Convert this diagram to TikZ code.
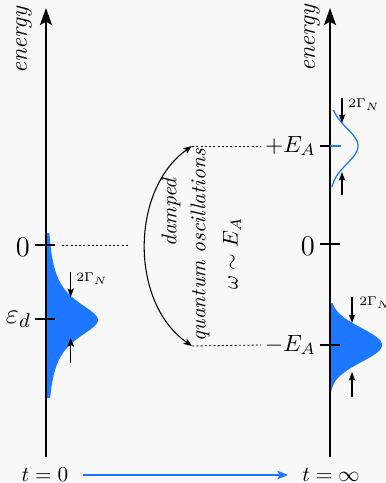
\RequirePackage{fix-cm}
\documentclass[tikz,border=0pt]{standalone}
\usetikzlibrary{arrows.meta}
\definecolor{myblue}{RGB}{30,120,255}
\definecolor{bgc}{RGB}{248,248,248}
\tikzset{
 axis/.style={line width=1.2pt,-{Stealth[length=8pt,width=5.6pt,inset=1.6pt]}},
 tick/.style={line width=0.5pt},
 guide/.style={line width=0.4pt, dash pattern=on 1pt off 1pt},
 gam/.style={line width=0.7pt,-{Stealth[length=4pt,width=3pt,inset=0.8pt]}},
 gamlabel/.style={font=\fontsize{6}{7}\selectfont, anchor=west, inner sep=0pt},
 axlabel/.style={font=\fontsize{11.5}{13}\selectfont\itshape, rotate=90, inner sep=0pt},
 bigl/.style={font=\fontsize{13.4}{15}\selectfont, anchor=east, inner sep=2.2pt},
 eal/.style={font=\fontsize{11}{13}\selectfont, anchor=east, inner sep=1.8pt},
 midtext/.style={rotate=90, inner sep=0pt},
 tlabel/.style={inner sep=0pt},
}
\begin{document}
\begin{tikzpicture}[x=0.47pt,y=-0.47pt]
\fill[bgc] (0,0) rectangle (386,483);
\useasboundingbox (0,0) rectangle (386,483);

% distributions
\fill[myblue] (46,233) -- plot[domain=-87:78,samples=120,variable=\t] ({46+52/(1+\t*\t/529)},{320+\t}) -- (46,398) -- cycle;
\fill[myblue] (330,303) -- plot[domain=-42:47,samples=120,variable=\t] ({330+52*exp(-\t*\t/578)},{345+\t}) -- (330,392) -- cycle;
\draw[myblue,line width=0.6pt] plot[domain=-36:41,samples=120,variable=\t] ({330+28*exp(-\t*\t/626)},{146+\t});

% axes
\coordinate (L0) at (46,457); \coordinate (L1) at (46,8);
\coordinate (R0) at (330,457); \coordinate (R1) at (330,8);
\draw[axis] (L0) -- (L1);
\draw[axis] (R0) -- (R1);
\node[axlabel] (enL) at (24,40) {energy};
\node[axlabel] (enR) at (312,38) {energy};

% left ticks
\coordinate (tz1) at (35,245); \coordinate (tz2) at (55,245);
\draw[tick] (tz1) -- (tz2);
\node[bigl] (zL) at ([yshift=-1pt]tz1) {$0$};
\coordinate (te1) at (35,319); \coordinate (te2) at (55,319);
\draw[tick] (te1) -- (te2);
\node[bigl, anchor=mid east, inner sep=1.8pt] (ed) at (te1) {$\varepsilon_d$};
\coordinate (dl1) at (62,245); \coordinate (dl2) at (128,245);
\draw[guide] (dl1) -- (dl2);

% right ticks
\coordinate (ta1) at (320,146); \coordinate (ta2) at (330,146); \coordinate (ta3) at (341,146);
\draw[tick] (ta1) -- (ta2);
\draw[myblue, line width=1.2pt] (ta2) -- (ta3);
\node[eal] (EAp) at (ta1) {$+E_A$};
\coordinate (tr1) at (320,244); \coordinate (tr2) at (340,244);
\draw[tick] (tr1) -- (tr2);
\node[bigl] (zR) at ([yshift=-1pt]tr1) {$0$};
\coordinate (tm1) at (320,345); \coordinate (tm2) at (340,345);
\draw[tick] (tm1) -- (tm2);
\node[eal] (EAm) at (tm1) {$-E_A$};

% dashed guides and oscillation arrow
\coordinate (c1) at (192,146); \coordinate (c2) at (192,346);
\draw[guide] (c1) -- (EAp.west);
\draw[guide] (c2) -- (EAm.west);
\draw[line width=0.5pt,{Stealth[length=4pt,width=3pt,inset=0.8pt]}-{Stealth[length=4pt,width=3pt,inset=0.8pt]}] (c1) .. controls (130,190) and (130,303) .. (c2);
\node[midtext] (m1) at (171,212) {\textit{damped}};
\node[midtext] (m2) at (200,245) {\textit{quantum oscillations}};
\node[midtext] (m3) at (232,254) {$\omega\sim E_A$};

% width arrows
\coordinate (g1a) at (70.7,272); \coordinate (g1b) at (70.7,297);
\coordinate (g1c) at (70.7,363); \coordinate (g1d) at (70.7,338);
\draw[gam] (g1a) -- (g1b); \draw[gam] (g1c) -- (g1d);
\node[gamlabel] (G1) at (76,279) {$2\Gamma_N$};
\coordinate (g2a) at (342,98); \coordinate (g2b) at (342,123);
\coordinate (g2c) at (342,195); \coordinate (g2d) at (342,172);
\draw[gam] (g2a) -- (g2b); \draw[gam] (g2c) -- (g2d);
\node[gamlabel] (G2) at (348,105) {$2\Gamma_N$};
\coordinate (g3a) at (352,297); \coordinate (g3b) at (352,323);
\coordinate (g3c) at (352,397); \coordinate (g3d) at (352,372);
\draw[gam] (g3a) -- (g3b); \draw[gam] (g3c) -- (g3d);
\node[gamlabel] (G3) at (359,303) {$2\Gamma_N$};

% time axis
\node[tlabel] (t0) at (45,475) {$t=0$};
\node[tlabel] (tinf) at (331,475) {$t=\infty$};
\draw[myblue, line width=0.8pt, -{Stealth[length=5pt,width=4pt,inset=1pt]}, shorten <=6.5pt, shorten >=6.5pt] (t0.east) -- (tinf.west);
\end{tikzpicture}
\end{document}
